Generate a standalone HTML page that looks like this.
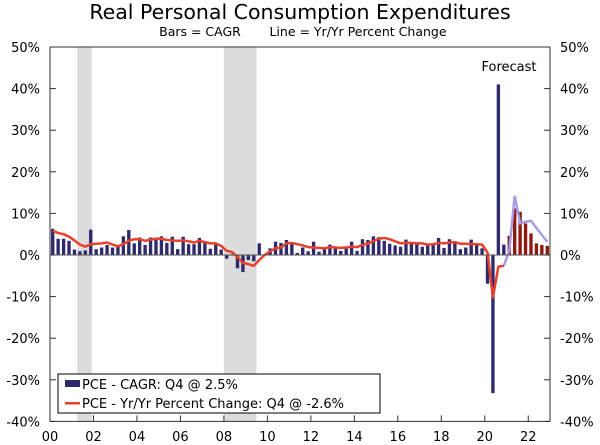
<!DOCTYPE html>
<html><head><meta charset="utf-8"><style>
body{margin:0;background:#fff;}
svg{display:block;font-family:"DejaVu Sans","Liberation Sans",sans-serif;}
</style></head><body>
<svg id="chart" width="600" height="445" viewBox="0 0 600 445">
<text x="300" y="19" font-size="20.5" text-anchor="middle" fill="#000">Real Personal Consumption Expenditures</text>
<text x="200" y="36" font-size="12.5" text-anchor="middle" fill="#000">Bars = CAGR</text>
<text x="358" y="36" font-size="12.5" text-anchor="middle" fill="#000">Line = Yr/Yr Percent Change</text>
<g id="shade"></g><g id="bars"></g><g id="lines"></g><g id="axes"></g>
<text x="509" y="71" font-size="13" text-anchor="middle" fill="#000">Forecast</text>
<g>
<rect x="58" y="374" width="322" height="39" fill="#fff" stroke="#000" stroke-width="1"/>
<rect x="65" y="380" width="15" height="7" fill="#2e2a6e"/>
<text x="82" y="389" font-size="13">PCE - CAGR: Q4 @ 2.5%</text>
<rect x="65" y="402" width="15" height="2.5" fill="#e8402a"/>
<text x="82" y="408" font-size="13">PCE - Yr/Yr Percent Change: Q4 @ -2.6%</text>
</g>
</svg>
<script>
const cagr=[6.3,3.9,3.9,3.4, 1.3,0.9,1.1,6.1, 1.4,1.8,2.4,1.8, 2.0,4.5,6.0,2.8, 4.2,2.4,4.2,4.2,
 4.5,2.9,4.4,1.4, 4.4,2.6,2.6,4.1, 3.1,1.5,2.5,1.3, -0.9,0.2,-3.2,-4.1, -1.2,-1.5,2.8,-0.1,
 1.6,3.2,2.9,3.6, 3.1,0.5,1.8,0.9, 3.2,0.8,1.4,2.5, 1.9,1.0,1.9,3.2, 1.0,3.8,3.6,4.5,
 4.3,3.4,2.7,2.3, 2.0,3.7,2.8,2.8, 2.0,2.6,2.5,4.1, 1.7,3.8,3.1,1.4, 1.8,3.7,2.7,1.6,
 -6.9,-33.2,41.0,2.5];
const cagrFcst=[4.6,11.2,10.4,7.6,5.2,2.8,2.4,2.2];
const yoy=[5.8,5.3,5.0,4.4, 3.5,2.5,2.0,2.6, 2.7,2.8,3.0,2.5, 2.1,2.6,3.4,3.8, 3.8,3.4,3.7,3.9,
 3.9,3.6,3.5,3.4, 3.5,3.3,3.0,3.4, 3.1,2.8,2.8,2.2, 1.0,0.7,-0.5,-1.9, -2.2,-2.6,-1.2,0.0,
 0.9,1.6,1.8,2.8, 2.9,2.6,2.3,1.9, 1.8,1.7,1.6,1.9, 1.8,1.7,1.8,2.0, 1.9,2.4,2.8,3.3,
 3.9,4.1,3.8,3.3, 2.8,2.9,2.9,2.8, 2.8,2.5,2.6,2.9, 2.8,3.0,3.1,2.7, 2.7,2.6,2.6,2.5,
 0.6,-10.2,-2.8,-2.6];
const yoyFcst=[-2.6,1.0,14.2,7.6,8.0,8.2,6.5,4.8,3.2];
const yTicks=[50,40,30,20,10,0,-10,-20,-30,-40];
const xTicks=["00","02","04","06","08","10","12","14","16","18","20","22"];
const recessions=[[2001.25,2001.92],[2008.0,2009.5]];

const NS="http://www.w3.org/2000/svg";
const X0=50,X1=550,Q=(X1-X0)/92;
const xq=i=>X0+Q*(i+0.5);
const xyr=y=>X0+(y-2000)*4*Q;
const yv=v=>255-v*4.16;
function mk(t,a,p){const e=document.createElementNS(NS,t);for(const k in a)e.setAttribute(k,a[k]);document.getElementById(p).appendChild(e);return e;}

recessions.forEach((r,i)=>{
 const e=mk('rect',{x:xyr(r[0]),y:yv(50),width:xyr(r[1])-xyr(r[0]),height:yv(-40)-yv(50),fill:'#dcdcdc'},'shade');
 
 
});
const bw=Q*0.62;
cagr.forEach((v,i)=>{
 const e=mk('rect',{x:xq(i)-bw/2,y:Math.min(yv(v),yv(0)),width:bw,height:Math.abs(yv(v)-yv(0)),fill:'#2e2a6e'},'bars');
 
 
});
cagrFcst.forEach((v,j)=>{
 const i=cagr.length+j;
 const e=mk('rect',{x:xq(i)-bw/2,y:Math.min(yv(v),yv(0)),width:bw,height:Math.abs(yv(v)-yv(0)),fill:'#8b1a10'},'bars');
 
 
});
const pf=yoyFcst.map((v,j)=>xq(yoy.length-1+j)+','+yv(v)).join(' ');
const l2=mk('polyline',{points:pf,fill:'none',stroke:'#a99be6','stroke-width':2.5},'lines');


const pts=yoy.map((v,i)=>xq(i)+','+yv(v)).join(' ');
const l1=mk('polyline',{points:pts,fill:'none',stroke:'#e8402a','stroke-width':2.5,'stroke-linejoin':'round'},'lines');



const fr=mk('rect',{x:X0,y:yv(50),width:X1-X0,height:yv(-40)-yv(50),fill:'none',stroke:'#333','stroke-width':1},'axes');


const z=mk('line',{x1:X0,x2:X1,y1:yv(0),y2:yv(0),stroke:'#555','stroke-width':1},'axes');


yTicks.forEach(v=>{
 const y=yv(v);
 mk('line',{x1:X0,x2:X0+6,y1:y,y2:y,stroke:'#333'},'axes');
 mk('line',{x1:X1-6,x2:X1,y1:y,y2:y,stroke:'#333'},'axes');
 const a=mk('text',{x:X0-10,y:y+5,'font-size':13,'text-anchor':'end'},'axes');a.textContent=v+'%';
 
 
 const b=mk('text',{x:X1+10,y:y+5,'font-size':13,'text-anchor':'start'},'axes');b.textContent=v+'%';
 
 
});
xTicks.forEach((t,i)=>{
 const x=xyr(2000+2*i);
 mk('line',{x1:x,x2:x,y1:yv(-40)-6,y2:yv(-40),stroke:'#333'},'axes');
 const e=mk('text',{x:x,y:441,'font-size':13,'text-anchor':'middle'},'axes');e.textContent=t;
 
 
});
</script>
</body></html>
